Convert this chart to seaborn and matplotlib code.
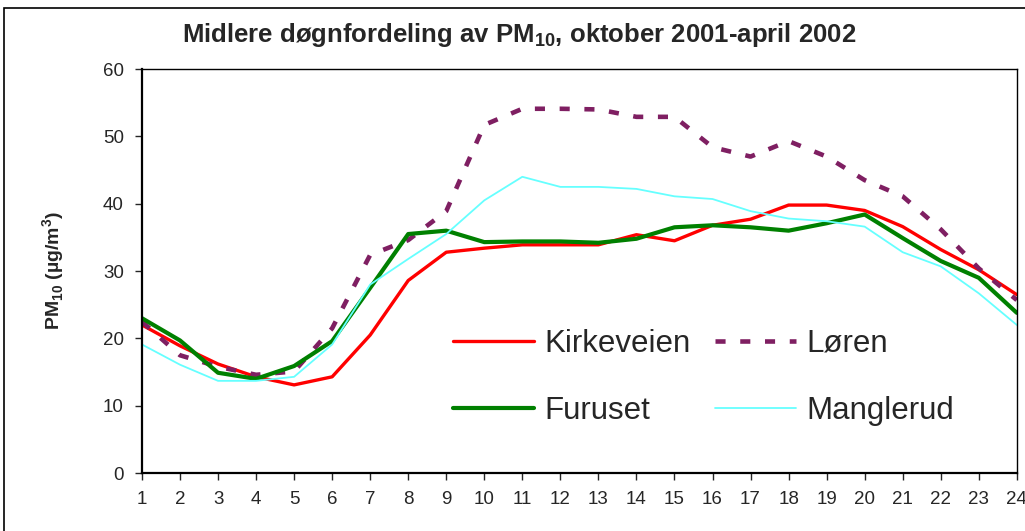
import seaborn as sns
import pandas as pd
import matplotlib.pyplot as plt
import matplotlib.patches as patches

# hourly mean PM10, oct 2001 - apr 2002
hours = list(range(1, 25))
kirkeveien = [22.0, 18.9, 16.2, 14.3, 13.1, 14.3, 20.5, 28.6, 32.8, 33.4, 33.9, 33.9,
              33.9, 35.4, 34.5, 36.8, 37.7, 39.8, 39.8, 39.0, 36.6, 33.2, 30.2, 26.5]
loren = [22.5, 17.5, 15.8, 14.6, 15.1, 21.5, 32.4, 34.6, 38.9, 51.7, 54.1, 54.1,
         54.0, 52.9, 52.9, 48.4, 47.0, 49.3, 47.0, 43.5, 41.1, 36.2, 30.4, 25.7]
furuset = [23.0, 19.7, 14.9, 14.0, 15.9, 19.6, 27.5, 35.5, 36.0, 34.3, 34.4, 34.4,
           34.2, 34.8, 36.5, 36.8, 36.5, 36.0, 37.1, 38.4, 34.9, 31.5, 29.0, 23.8]
manglerud = [19.1, 16.1, 13.7, 13.7, 14.3, 19.1, 28.0, 31.8, 35.5, 40.5, 44.0, 42.5,
             42.5, 42.2, 41.1, 40.7, 38.9, 37.8, 37.4, 36.6, 32.8, 30.7, 26.7, 22.0]
stations = ["Kirkeveien", "Løren", "Furuset", "Manglerud"]

df = pd.DataFrame({"hour": hours * 4,
                   "pm10": kirkeveien + loren + furuset + manglerud,
                   "station": sum([[s] * 24 for s in stations], [])})

sns.set_style("white")
plt.rcParams['font.family'] = ['Liberation Sans Narrow', 'Liberation Sans', 'DejaVu Sans']
plt.rcParams['mathtext.fontset'] = 'custom'
plt.rcParams['mathtext.rm'] = 'Liberation Sans'
plt.rcParams['mathtext.bf'] = 'Liberation Sans:bold'

fig = plt.figure(figsize=(10.25, 5.31), dpi=100)
ax = fig.add_axes([0.1385, 0.109, 0.8535, 0.761])

styles = {"Kirkeveien": dict(color="#ff0000", lw=2.4),
          "Løren": dict(color="#7f1f62", lw=3.3, dashes=(2.2, 3.2)),
          "Furuset": dict(color="#008000", lw=3.0),
          "Manglerud": dict(color="#66ffff", lw=1.3)}
for s in stations:
    st = styles[s]
    sub = df[df.station == s]
    sns.lineplot(data=sub, x="hour", y="pm10", ax=ax, color=st["color"],
                 linewidth=st["lw"], label=s)
    if "dashes" in st:
        ax.lines[-1].set_dashes(st["dashes"])

ax.set_xlim(1, 24)
ax.set_ylim(0, 60)
ax.set_xticks(hours)
ax.set_yticks(range(0, 61, 10))
ax.tick_params(axis="both", direction="out", length=5, width=1, labelsize=13.5,
               bottom=True, left=True, pad=8)
ax.set_xlabel("")
ax.set_ylabel(r"PM$_{\mathbf{10}}$ (µg/m$^{\mathbf{3}}$)", fontsize=14, fontweight="bold",
              family=['Liberation Sans', 'DejaVu Sans'], labelpad=26)
for sp in ax.spines.values():
    sp.set_color("black")
    sp.set_linewidth(1.0)
ax.spines["left"].set_linewidth(1.6)
ax.spines["bottom"].set_linewidth(1.6)

fig.suptitle(r"Midlere døgnfordeling av PM$_{\mathbf{10}}$, oktober 2001-april 2002",
             x=0.507, y=0.96, fontsize=18.5, fontweight="bold")

# legend rows: Kirkeveien, Løren / Furuset, Manglerud
h, l = ax.get_legend_handles_labels()
order = [0, 2, 1, 3]
ax.legend([h[i] for i in order], [l[i] for i in order], ncol=2, frameon=False,
          handlelength=2.6, columnspacing=0.75, labelspacing=1.2, handletextpad=0.35,
          loc="upper left", bbox_to_anchor=(0.323, 0.427),
          prop={"family": ['Liberation Sans', 'DejaVu Sans'], "size": 22.5})

fig.patches.append(patches.Rectangle((4 / 1025, -0.1), 1.2, 1.1 - 8 / 531,
                                     transform=fig.transFigure, fill=False,
                                     edgecolor="black", lw=1.2))

fig.savefig("out.png", dpi=100)
